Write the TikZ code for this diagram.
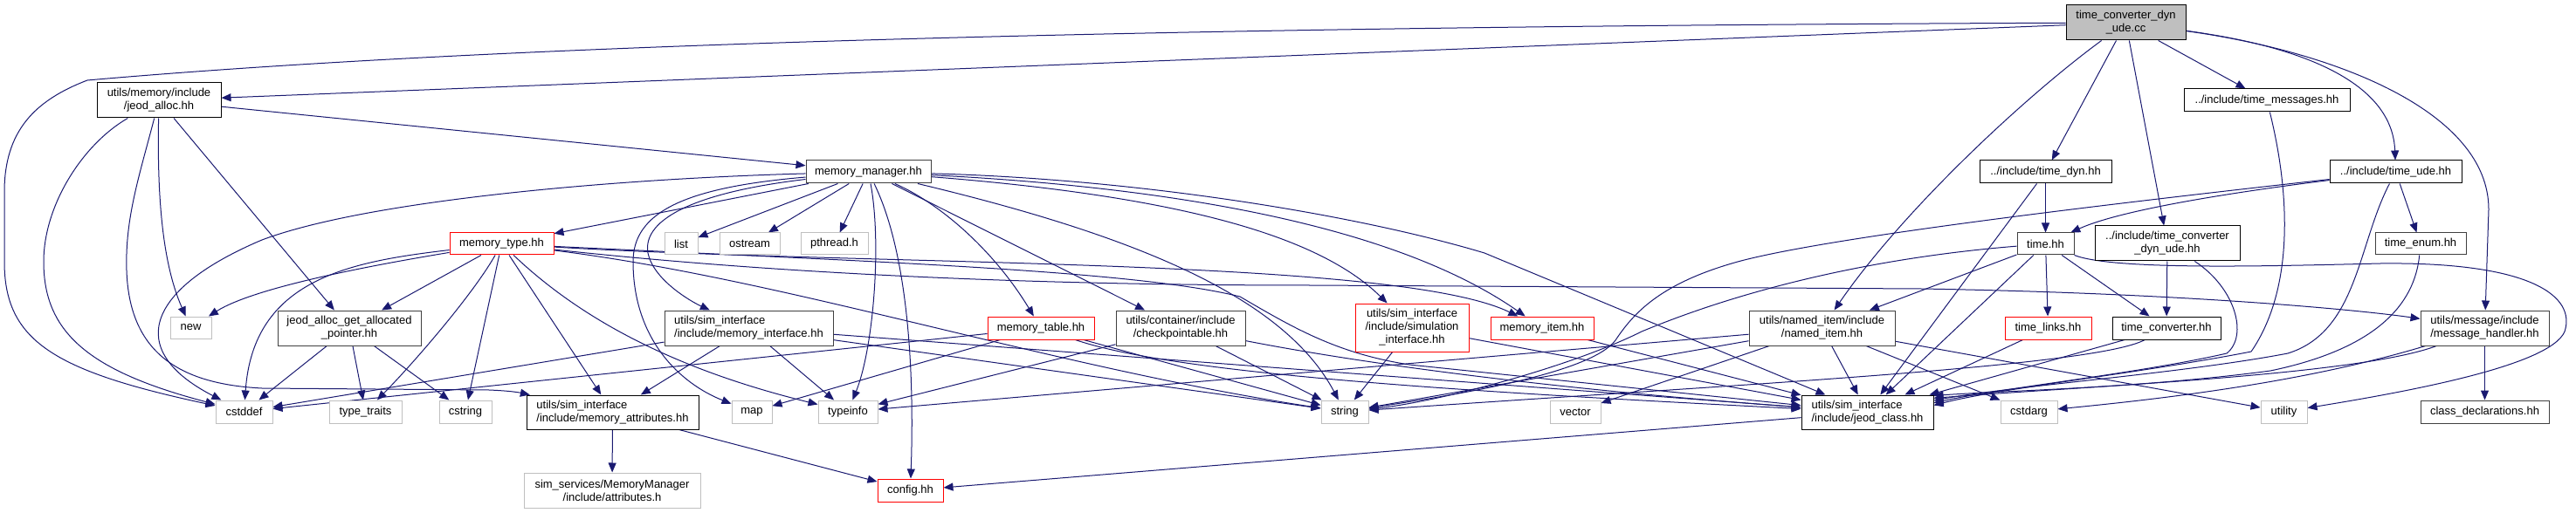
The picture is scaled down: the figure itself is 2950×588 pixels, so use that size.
\documentclass[tikz,border=0pt]{standalone}
\usepackage{fontspec}
\setmainfont{Liberation Sans}
\usetikzlibrary{arrows.meta, backgrounds}
\definecolor{edgeblue}{HTML}{191970}
\definecolor{grey75}{HTML}{BFBFBF}
\definecolor{grey25}{HTML}{404040}
\newcommand{\boxfont}{\fontsize{6.5}{7.5}\selectfont}

\begin{document}
\begin{tikzpicture}[x=0.5pt, y=-0.5pt]
    \tikzstyle{hbox}=[draw, rectangle, inner sep=0pt, line width=0.5pt, fill=white, font=\boxfont, align=center]
    \tikzstyle{sysbox}=[hbox, draw=grey75]
    \tikzstyle{docbox}=[hbox, draw=black]
    \tikzstyle{linkbox}=[hbox, draw=grey25]
    \tikzstyle{cutbox}=[hbox, draw=red]
    \tikzstyle{rootbox}=[hbox, draw=black, fill=grey75]
    \tikzstyle{incl}=[draw=edgeblue, line width=0.5pt, -{Triangle[length=5.5pt, width=4.5pt]}]

    \useasboundingbox (0,0) rectangle (2950,588);

    \node[rootbox, minimum width=68.5pt, minimum height=20pt] (tcdu) at (2434.5,26) {time\_converter\_dyn\\\_ude.cc};
    \node[docbox, minimum width=71pt, minimum height=20pt] (jeodalloc) at (182,115) {utils/memory/include\\/jeod\_alloc.hh};
    \node[docbox, minimum width=95pt, minimum height=13pt] (timemsgs) at (2596,115) {../include/time\_messages.hh};
    \node[linkbox, minimum width=71.5pt, minimum height=13pt] (memmgr) at (994.5,197) {memory\_manager.hh};
    \node[docbox, minimum width=75.5pt, minimum height=13pt] (timedyn) at (2342.5,197) {../include/time\_dyn.hh};
    \node[docbox, minimum width=75.5pt, minimum height=13pt] (timeude) at (2743.5,197) {../include/time\_ude.hh};

    \node[cutbox, minimum width=59.5pt, minimum height=12.5pt] (memtype) at (574.5,279.5) {memory\_type.hh};
    \node[sysbox, minimum width=19pt, minimum height=12.5pt] (list) at (780,279.5) {list};
    \node[sysbox, minimum width=34.5pt, minimum height=12.5pt] (ostream) at (858.5,279.5) {ostream};
    \node[sysbox, minimum width=38.5pt, minimum height=12.5pt] (pthread) at (955.5,279.5) {pthread.h};
    \node[linkbox, minimum width=32.5pt, minimum height=12.5pt] (timehh) at (2342.5,279.5) {time.hh};
    \node[docbox, minimum width=83pt, minimum height=20pt] (tcduhh) at (2482,279) {../include/time\_converter\\\_dyn\_ude.hh};
    \node[linkbox, minimum width=52pt, minimum height=12.5pt] (timeenum) at (2772,279.5) {time\_enum.hh};

    \node[sysbox, minimum width=23.5pt, minimum height=12.5pt] (new) at (218.5,375.5) {new};
    \node[linkbox, minimum width=82pt, minimum height=20pt] (allocptr) at (400,376) {jeod\_alloc\_get\_allocated\\\_pointer.hh};
    \node[linkbox, minimum width=96.5pt, minimum height=20pt, align=left] (meminterface) at (857.5,376) {utils/sim\_interface\\/include/memory\_interface.hh};
    \node[cutbox, minimum width=61pt, minimum height=13pt] (memtable) at (1192,376) {memory\_table.hh};
    \node[linkbox, minimum width=74pt, minimum height=20pt] (checkpt) at (1352,376) {utils/container/include\\/checkpointable.hh};
    \node[cutbox, minimum width=65pt, minimum height=27.5pt] (siminterface) at (1617,375.5) {utils/sim\_interface\\/include/simulation\\\_interface.hh};
    \node[cutbox, minimum width=59pt, minimum height=13pt] (memitem) at (1766,376) {memory\_item.hh};
    \node[linkbox, minimum width=83.5pt, minimum height=20pt] (nameditem) at (2086.5,376) {utils/named\_item/include\\/named\_item.hh};
    \node[cutbox, minimum width=49.5pt, minimum height=13pt] (timelinks) at (2345.5,376) {time\_links.hh};
    \node[docbox, minimum width=62pt, minimum height=13pt] (timeconv) at (2481,376) {time\_converter.hh};
    \node[linkbox, minimum width=73.5pt, minimum height=20pt] (msghandler) at (2845.5,376) {utils/message/include\\/message\_handler.hh};

    \node[sysbox, minimum width=32.5pt, minimum height=13pt] (cstddef) at (279.5,472) {cstddef};
    \node[sysbox, minimum width=41.5pt, minimum height=13pt] (typetraits) at (418.5,472) {type\_traits};
    \node[sysbox, minimum width=30pt, minimum height=13pt] (cstring) at (533,472) {cstring};
    \node[docbox, minimum width=98.5pt, minimum height=19.5pt, align=left] (memattr) at (701.5,472.5) {utils/sim\_interface\\/include/memory\_attributes.hh};
    \node[sysbox, minimum width=23pt, minimum height=13pt] (map) at (861,472) {map};
    \node[sysbox, minimum width=34pt, minimum height=13pt] (typeinfo) at (971,472) {typeinfo};
    \node[sysbox, minimum width=27pt, minimum height=13pt] (string) at (1540,472) {string};
    \node[sysbox, minimum width=29pt, minimum height=13pt] (vector) at (1804,472) {vector};
    \node[docbox, minimum width=75.5pt, minimum height=19.5pt, align=left] (jeodclass) at (2138.5,472.5) {utils/sim\_interface\\/include/jeod\_class.hh};
    \node[sysbox, minimum width=32.5pt, minimum height=13pt] (cstdarg) at (2323.5,472) {cstdarg};
    \node[sysbox, minimum width=26.5pt, minimum height=13pt] (utility) at (2615.5,472) {utility};
    \node[linkbox, minimum width=73.5pt, minimum height=13pt] (classdecl) at (2845.5,472) {class\_declarations.hh};

    \node[sysbox, minimum width=101pt, minimum height=20pt] (attributes) at (701,562) {sim\_services/MemoryManager\\/include/attributes.h};
    \node[cutbox, minimum width=37.5pt, minimum height=13pt] (config) at (1042.5,562) {config.hh};

    \begin{scope}[on background layer]
    \draw[incl] (tcdu) .. controls (1400,30) and (600,48) .. (100,92) .. controls (40,115) and (5,150) .. (5,220) -- (5,300) .. controls (5,390) and (60,425) .. (cstddef);
    \draw[incl] (tcdu) -- (jeodalloc);
    \draw[incl] (tcdu) -- (timemsgs);
    \draw[incl] (tcdu) -- (timedyn);
    \draw[incl] (tcdu) -- (tcduhh);
    \draw[incl] (tcdu) .. controls (2650,55) and (2740,100) .. (timeude);
    \draw[incl] (tcdu) .. controls (2680,60) and (2850,130) .. (2850,240) -- (msghandler);
    \draw[incl] (tcdu) .. controls (2320,110) and (2180,240) .. (nameditem);

    \draw[incl] (jeodalloc) .. controls (95,165) and (50,235) .. (50,300) .. controls (50,380) and (100,425) .. (cstddef);
    \draw[incl] (jeodalloc) .. controls (160,200) and (143,250) .. (145,310) .. controls (148,400) and (200,440) .. (300,445) -- (560,447) .. controls (585,448) and (595,450) .. (memattr);
    \draw[incl] (jeodalloc) .. controls (180,220) and (185,300) .. (new);
    \draw[incl] (jeodalloc) -- (allocptr);
    \draw[incl] (jeodalloc) -- (memmgr);

    \draw[incl] (memmgr) .. controls (700,205) and (420,230) .. (300,275) .. controls (170,330) and (140,400) .. (cstddef);
    \draw[incl] (memmgr) -- (memtype);
    \draw[incl] (memmgr) -- (list);
    \draw[incl] (memmgr) -- (ostream);
    \draw[incl] (memmgr) -- (pthread);
    \draw[incl] (memmgr) .. controls (800,220) and (735,250) .. (742,290) .. controls (748,320) and (790,345) .. (meminterface);
    \draw[incl] (memmgr) .. controls (780,215) and (725,245) .. (725,300) .. controls (725,390) and (780,440) .. (map);
    \draw[incl] (memmgr) .. controls (1010,280) and (1000,400) .. (typeinfo);
    \draw[incl] (memmgr) .. controls (1035,280) and (1048,400) .. (config);
    \draw[incl] (memmgr) .. controls (1080,235) and (1140,290) .. (memtable);
    \draw[incl] (memmgr) -- (checkpt);
    \draw[incl] (memmgr) .. controls (1300,270) and (1470,340) .. (string);
    \draw[incl] (memmgr) .. controls (1350,225) and (1510,270) .. (siminterface);
    \draw[incl] (memmgr) .. controls (1350,215) and (1600,260) .. (memitem);
    \draw[incl] (memmgr) .. controls (1300,205) and (1550,245) .. (1700,290) -- (jeodclass);

    \draw[incl] (memtype) .. controls (420,305) and (290,330) .. (new);
    \draw[incl] (memtype) .. controls (400,300) and (290,320) .. (cstddef);
    \draw[incl] (memtype) -- (allocptr);
    \draw[incl] (memtype) .. controls (540,340) and (470,420) .. (typetraits);
    \draw[incl] (memtype) -- (cstring);
    \draw[incl] (memtype) -- (memattr);
    \draw[incl] (memtype) .. controls (680,380) and (800,430) .. (typeinfo);
    \draw[incl] (memtype) .. controls (900,320) and (1200,420) .. (string);
    \draw[incl] (memtype) .. controls (1000,305) and (1600,295) .. (memitem);
    \draw[incl] (memtype) .. controls (900,315) and (1200,327) .. (1500,327) -- (2200,331) .. controls (2500,336) and (2700,355) .. (msghandler);
    \draw[incl] (memtype) .. controls (1000,300) and (1300,310) .. (1420,340) .. controls (1480,375) and (1530,405) .. (1614,418) -- (jeodclass);

    \draw[incl] (meminterface) -- (cstddef);
    \draw[incl] (meminterface) -- (memattr);
    \draw[incl] (meminterface) -- (typeinfo);
    \draw[incl] (meminterface) -- (string);
    \draw[incl] (meminterface) -- (jeodclass);

    \draw[incl] (memtable) -- (cstddef);
    \draw[incl] (memtable) -- (map);
    \draw[incl] (memtable) -- (string);
    \draw[incl] (memtable) .. controls (1350,430) and (1700,450) .. (jeodclass);

    \draw[incl] (checkpt) -- (typeinfo);
    \draw[incl] (checkpt) -- (string);
    \draw[incl] (checkpt) .. controls (1500,405) and (1700,440) .. (jeodclass);

    \draw[incl] (siminterface) -- (string);
    \draw[incl] (siminterface) -- (jeodclass);
    \draw[incl] (memitem) -- (jeodclass);

    \draw[incl] (nameditem) -- (typeinfo);
    \draw[incl] (nameditem) -- (string);
    \draw[incl] (nameditem) -- (vector);
    \draw[incl] (nameditem) -- (jeodclass);
    \draw[incl] (nameditem) -- (cstdarg);
    \draw[incl] (nameditem) -- (utility);

    \draw[incl] (jeodclass) -- (config);
    \draw[incl] (memattr) -- (attributes);
    \draw[incl] (memattr) -- (config);
    \draw[incl] (allocptr) -- (cstddef);
    \draw[incl] (allocptr) -- (typetraits);
    \draw[incl] (allocptr) -- (cstring);

    \draw[incl] (timemsgs) .. controls (2622,220) and (2628,330) .. (2578,403) .. controls (2450,428) and (2290,445) .. (jeodclass.6);
    \draw[incl] (tcduhh) -- (timeconv);
    \draw[incl] (tcduhh) .. controls (2560,330) and (2575,385) .. (2550,405) .. controls (2450,428) and (2290,445) .. (jeodclass.8);
    \draw[incl] (timedyn) -- (timehh);
    \draw[incl] (timedyn) -- (jeodclass);
    \draw[incl] (timeude) .. controls (2560,220) and (2430,240) .. (timehh);
    \draw[incl] (timeude) .. controls (2450,230) and (2100,270) .. (1990,300) .. controls (1900,325) and (1870,360) .. (1850,390) .. controls (1820,430) and (1650,455) .. (string);
    \draw[incl] (timeude) .. controls (2700,280) and (2700,380) .. (2620,405) .. controls (2500,428) and (2300,443) .. (jeodclass.10);
    \draw[incl] (timeude) -- (timeenum);
    \draw[incl] (timehh) -- (nameditem);
    \draw[incl] (timehh) .. controls (2150,295) and (2000,330) .. (1880,380) .. controls (1800,420) and (1650,460) .. (string);
    \draw[incl] (timehh) -- (jeodclass);
    \draw[incl] (timehh) -- (timelinks);
    \draw[incl] (timehh) -- (timeconv);
    \draw[incl] (timehh) .. controls (2420,310) and (2600,305) .. (2726,302) .. controls (2900,300) and (2950,340) .. (2937,380) .. controls (2920,420) and (2750,450) .. (utility);
    \draw[incl] (timelinks) -- (jeodclass);
    \draw[incl] (timeconv) -- (jeodclass);
    \draw[incl] (timeconv) .. controls (2400,420) and (2000,440) .. (string);
    \draw[incl] (msghandler) -- (classdecl);
    \draw[incl] (msghandler) .. controls (2700,430) and (2400,442) .. (jeodclass.12);
    \draw[incl] (msghandler) .. controls (2650,435) and (2500,455) .. (cstdarg);
    \draw[incl] (timeenum) .. controls (2765,350) and (2720,400) .. (2600,425) .. controls (2450,445) and (2290,448) .. (jeodclass.14);
    \end{scope}
\end{tikzpicture}
\end{document}
